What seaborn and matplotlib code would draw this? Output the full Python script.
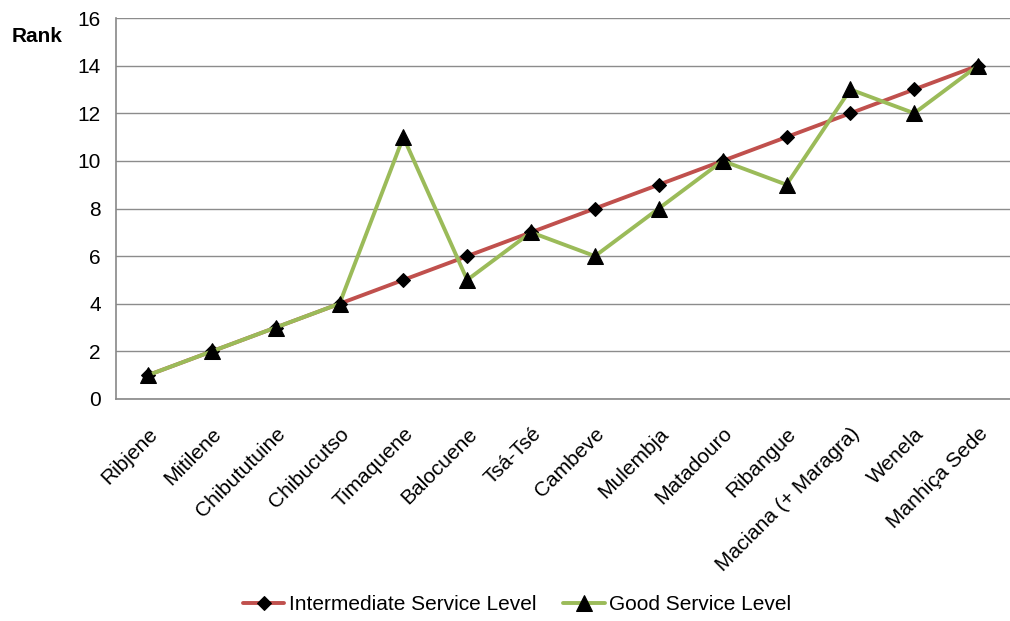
import pandas as pd
import seaborn as sns
import matplotlib.pyplot as plt

# ===============================
# DATA
# ===============================
places = ["Ribjene", "Mitilene", "Chibututuine", "Chibucutso", "Timaquene",
          "Balocuene", "Tsá-Tsé", "Cambeve", "Mulembja", "Matadouro",
          "Ribangue", "Maciana (+ Maragra)", "Wenela", "Manhiça Sede"]
intermediate = [1, 2, 3, 4, 5, 6, 7, 8, 9, 10, 11, 12, 13, 14]
good = [1, 2, 3, 4, 11, 5, 7, 6, 8, 10, 9, 13, 12, 14]

RED = "#C0504D"
GREEN = "#9BBB59"

sns.set_style("white")
plt.rcParams['font.family'] = ['Liberation Sans Narrow', 'Liberation Sans', 'DejaVu Sans']
plt.rcParams['text.color'] = 'black'
plt.rcParams['xtick.color'] = 'black'
plt.rcParams['ytick.color'] = 'black'

fig = plt.figure(figsize=(10.1, 6.21), dpi=100)
ax = fig.add_axes([116 / 1010, 1 - 399 / 621, 1 - 116 / 1010, (399 - 18) / 621])

df = pd.DataFrame({"place": places, "Intermediate": intermediate, "Good": good})
x = list(range(len(places)))

sns.lineplot(x=x, y=df["Intermediate"], ax=ax, color=RED, lw=2.8,
             marker="D", markersize=7, markerfacecolor="black",
             markeredgecolor="black", label="Intermediate Service Level", zorder=3)
sns.lineplot(x=x, y=df["Good"], ax=ax, color=GREEN, lw=2.8,
             marker="^", markersize=11, markerfacecolor="black",
             markeredgecolor="black", label="Good Service Level", zorder=3)

ax.set_ylim(0, 16)
ax.set_yticks(range(0, 17, 2))
ax.set_xlim(-0.5, 13.36)
ax.set_xticks([i - 0.5 for i in range(len(places) + 1)])
ax.set_xticklabels([])
ax.set_xticks(x, minor=True)
ax.set_xticklabels(places, minor=True, rotation=45, ha="right",
                   rotation_mode="anchor", fontsize=15)
ax.tick_params(axis="x", which="minor", length=0, pad=18)
ax.tick_params(axis="x", which="major", length=6, color="#888888", direction="out")
ax.tick_params(axis="y", length=7, color="#888888", labelcolor="black",
               direction="out", labelsize=15, pad=4)
ax.yaxis.grid(True, color="#8c8c8c", lw=1)
ax.set_axisbelow(True)

for s in ["top", "right"]:
    ax.spines[s].set_visible(False)
for s in ["left", "bottom"]:
    ax.spines[s].set_color("#888888")
    ax.spines[s].set_linewidth(1.2)

ax.set_xlabel("")
ax.set_ylabel("")
fig.text(37 / 1010, 1 - 37 / 621, "Rank", fontsize=15, fontweight="bold",
         ha="center", va="center")

ax.legend(loc="center", bbox_to_anchor=(517 / 1010, 1 - 605 / 621),
          bbox_transform=fig.transFigure, ncol=2, frameon=False, fontsize=15,
          handlelength=2.0, columnspacing=1.3, handletextpad=0.2)

fig.savefig("out.png", dpi=100)
